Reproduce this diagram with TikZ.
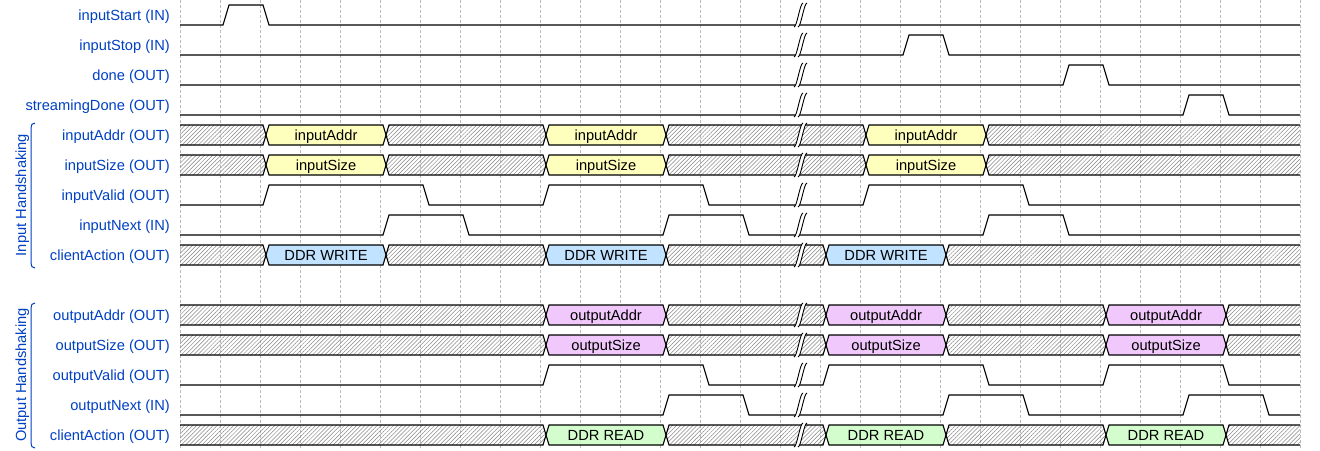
\documentclass[tikz,border=0pt]{standalone}
\usepackage{fontspec}
\setmainfont{Liberation Sans}
\usetikzlibrary{patterns.meta}
\definecolor{lblue}{RGB}{0,65,196}
\definecolor{dyellow}{HTML}{FFFFB4}
\definecolor{dblue}{HTML}{B9E0FF}
\definecolor{dviolet}{HTML}{F0C1FB}
\definecolor{dgreen}{HTML}{CDFDC5}
\definecolor{gridc}{HTML}{BBBBBB}
\tikzset{
  sig/.style={line width=1.1pt, black, line join=miter},
  gridline/.style={gridc, dash pattern=on 3pt off 2pt, line width=0.9pt},
  hatchfill/.style={pattern={Lines[angle=45,distance=2.9pt,line width=0.5pt]}, pattern color=black!48},
  lbl/.style={anchor=base east, text=lblue, font=\fontsize{14.67}{17}\selectfont, inner sep=0pt},
  dtext/.style={anchor=base, font=\fontsize{14.67}{17}\selectfont, inner sep=0pt},
  grp/.style={anchor=base, text=lblue, font=\fontsize{14.67}{17}\selectfont, rotate=90, inner sep=0pt},
  brace/.style={lblue, line width=1pt},
  gapline/.style={black, line width=0.9pt}
}
% binary wave: #1 row, #2 list of high intervals s/e
\newcommand\wv[2]{%
  \draw[sig] (180,{25+30*#1}) \foreach \s/\e in {#2} {
    -- ({183+40*\s},{25+30*#1}) -- ({189+40*\s},{5+30*#1})
    -- ({183+40*\e},{5+30*#1}) -- ({189+40*\e},{25+30*#1}) } -- (1300,{25+30*#1});}
% data row: #1 row, #2 data segments, #3 hatched segments, #4 colour, #5 text
\newcommand\dr[5]{%
  \pgfmathsetmacro\T{5+30*#1}\pgfmathsetmacro\M{15+30*#1}\pgfmathsetmacro\B{25+30*#1}
  \begin{scope}
    \clip (180,{30*#1}) rectangle (1300,{30*#1+30});
    \foreach \s/\e in {#3} {
      \fill[hatchfill] ({186+40*\s},\M) -- ({189+40*\s},\T) -- ({183+40*\e},\T) -- ({186+40*\e},\M) -- ({183+40*\e},\B) -- ({189+40*\s},\B) -- cycle;}
    \foreach \s/\e in {#2} {
      \fill[#4, fill opacity=0.88] ({186+40*\s},\M) -- ({189+40*\s},\T) -- ({183+40*\e},\T) -- ({186+40*\e},\M) -- ({183+40*\e},\B) -- ({189+40*\s},\B) -- cycle;}
    \foreach \s/\e in {#2,#3} {
      \draw[sig] ({186+40*\s},\M) -- ({189+40*\s},\T) -- ({183+40*\e},\T) -- ({186+40*\e},\M) -- ({183+40*\e},\B) -- ({189+40*\s},\B) -- cycle;}
  \end{scope}
  \foreach \s/\e in {#2} {
    \node[dtext] (d#1x\s) at ({186+20*(\s+\e)},{\M+5.3}) {#5};}
}
% gap mark on row #1
\newcommand\gp[1]{%
  \pgfmathsetmacro\M{15+30*#1}
  \fill[white] (794,{\M+12}) .. controls (797,{\M+12}) and (800,{\M-12}) .. (803,{\M-12})
     -- (807,{\M-12}) .. controls (804,{\M-12}) and (801,{\M+12}) .. (798,{\M+12}) -- cycle;
  \draw[gapline] (794,{\M+12}) .. controls (797,{\M+12}) and (800,{\M-12}) .. (803,{\M-12});
  \draw[gapline] (798,{\M+12}) .. controls (801,{\M+12}) and (804,{\M-12}) .. (807,{\M-12});
}
\begin{document}
\begin{tikzpicture}[x=1pt,y=-1pt]
\useasboundingbox (0,0) rectangle (1320,450);
\fill[white] (0,0) rectangle (1320,450);
% grid
\foreach \k in {0,...,28} \draw[gridline] ({180+40*\k},0) -- ({180+40*\k},450);
% labels
\foreach \r/\t in {0/inputStart (IN), 1/inputStop (IN), 2/done (OUT), 3/streamingDone (OUT),
  4/inputAddr (OUT), 5/inputSize (OUT), 6/inputValid (OUT), 7/inputNext (IN), 8/clientAction (OUT),
  10/outputAddr (OUT), 11/outputSize (OUT), 12/outputValid (OUT), 13/outputNext (IN), 14/clientAction (OUT)}
  \node[lbl] (l\r) at (170,{20.5+30*\r}) {\t};
% binary waves
\wv{0}{1/2}
\wv{1}{18/19}
\wv{2}{22/23}
\wv{3}{25/26}
\wv{6}{2/6,9/13,17/21}
\wv{7}{5/7,12/14,20/22}
\wv{12}{9/13,16/20,23/26}
\wv{13}{12/14,19/21,25/27}
% data rows
\dr{4}{2/5,9/12,17/20}{-1/2,5/9,12/17,20/29}{dyellow}{inputAddr}
\dr{5}{2/5,9/12,17/20}{-1/2,5/9,12/17,20/29}{dyellow}{inputSize}
\dr{8}{2/5,9/12,16/19}{-1/2,5/9,12/16,19/29}{dblue}{DDR WRITE}
\dr{10}{9/12,16/19,23/26}{-1/9,12/16,19/23,26/29}{dviolet}{outputAddr}
\dr{11}{9/12,16/19,23/26}{-1/9,12/16,19/23,26/29}{dviolet}{outputSize}
\dr{14}{9/12,16/19,23/26}{-1/9,12/16,19/23,26/29}{dgreen}{DDR READ}
% gaps
\foreach \r in {0,1,2,3,4,5,6,7,8,10,11,12,13,14} {\gp{\r}}
% groups
\node[grp] (g1) at (26,195) {Input Handshaking};
\node[grp] (g2) at (26,375) {Output Handshaking};
\draw[brace] (35,123) .. controls (32,123) and (31,125) .. (31,128) -- (31,263) .. controls (31,266) and (32,268) .. (35,268);
\draw[brace] (35,303) .. controls (32,303) and (31,305) .. (31,308) -- (31,443) .. controls (31,446) and (32,448) .. (35,448);
\end{tikzpicture}
\end{document}
